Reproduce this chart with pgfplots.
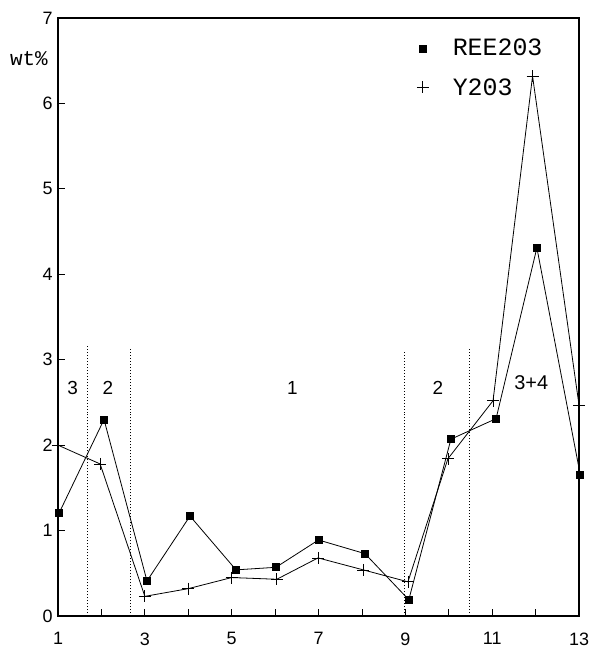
\documentclass[border=0pt]{standalone}
\usepackage{pgfplots}
\pgfplotsset{compat=1.18}
\usepackage{fontspec}
\setmainfont{Liberation Sans}
\newfontfamily\monofont{Liberation Mono}
\begin{document}
\begin{tikzpicture}
\begin{axis}[
  scale only axis, width=521bp, height=598bp,
  xmin=1, xmax=13, ymin=0, ymax=7,
  xtick={1,...,13}, xticklabels={1,,3,,5,,7,,9,,11,,13},
  ytick={0,...,7},
  tick pos=left, tick align=inside, major tick length=7bp,
  tick style={line width=0.8bp,black},
  axis line style={line width=1.1bp},
  ticklabel style={font=\fontsize{18}{20}\selectfont},
  /pgf/number format/assume math mode=true,
  xticklabel style={yshift=-13bp},
  yticklabel style={xshift=-2bp},
  clip=false,
  legend style={draw=none, fill=none, at={(axis cs:9.19,6.80)}, anchor=north west,
    font=\monofont\fontsize{25}{27}\selectfont, row sep=17bp,
    /tikz/every odd column/.append style={column sep=22bp}},
  legend cell align=left,
]
\coordinate (bl) at (rel axis cs:0,0);
\coordinate (tr) at (rel axis cs:1,1);
\addlegendimage{only marks, mark=square*, mark size=3.5bp, black}
\addlegendentry{REE203}
\addlegendimage{only marks, mark=+, mark size=6bp, black, line width=0.7bp}
\addlegendentry{Y203}
% dotted separators
\addplot[black, dotted, line width=1bp, forget plot] coordinates {(1.69,0) (1.69,3.17)};
\addplot[black, dotted, line width=1bp, forget plot] coordinates {(2.66,0) (2.66,3.12)};
\addplot[black, dotted, line width=1bp, forget plot] coordinates {(8.97,0) (8.97,3.11)};
\addplot[black, dotted, line width=1bp, forget plot] coordinates {(10.47,0) (10.47,3.13)};
% REE2O3
\addplot[black, line width=0.8bp, mark=square*, mark size=3.5bp, forget plot] coordinates {
 (1.03,1.21) (2.06,2.30) (3.05,0.41) (4.04,1.17) (5.10,0.54) (6.02,0.57) (7.00,0.89)
 (8.07,0.73) (9.08,0.19) (10.05,2.07) (11.09,2.31) (12.03,4.31) (13.03,1.65)};
% Y2O3
\addplot[black, line width=0.8bp, mark=+, mark size=6bp, mark options={line width=0.7bp}, forget plot] coordinates {
 (1.00,2.00) (1.97,1.78) (3.00,0.23) (4.00,0.32) (5.00,0.45) (6.04,0.43) (6.99,0.68)
 (8.03,0.54) (9.06,0.40) (9.98,1.84) (11.02,2.52) (11.93,6.32) (13.00,2.47)};
% region labels
\node[font=\fontsize{19}{21}\selectfont] at (axis cs:1.34,2.67) {3};
\node[font=\fontsize{19}{21}\selectfont] at (axis cs:2.15,2.67) {2};
\node[font=\fontsize{19}{21}\selectfont] at (axis cs:6.40,2.67) {1};
\node[font=\fontsize{19}{21}\selectfont] at (axis cs:9.75,2.67) {2};
\node[font=\fontsize{20}{22}\selectfont] at (axis cs:11.90,2.73) {3+4};
\node[font=\monofont\fontsize{21}{23}\selectfont] at (axis cs:0.33,6.53) {wt\%};
\end{axis}
\pgfresetboundingbox
\path[use as bounding box] ([shift={(-58bp,-32bp)}]bl) rectangle ([shift={(17bp,18bp)}]tr);
\end{tikzpicture}
\end{document}
